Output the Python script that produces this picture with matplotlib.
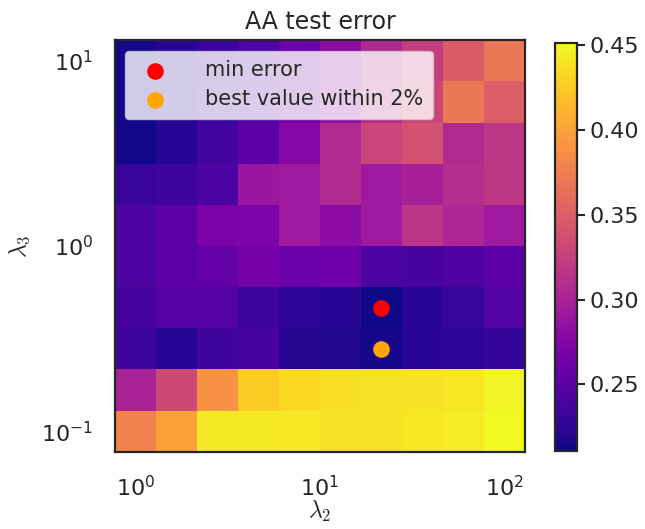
import numpy as np
import matplotlib.pyplot as plt
import seaborn as sns

# grid of regularisation strengths
lam2 = [1.0, 1.67, 2.78, 4.64, 7.74, 12.9, 21.5, 35.9, 59.9, 100.0]
lam3 = [0.1, 0.167, 0.278, 0.464, 0.774, 1.29, 2.15, 3.59, 5.99, 10.0]

# test error, rows = lam3 (ascending), cols = lam2 (ascending)
test_err = np.array([
    [0.377, 0.399, 0.442, 0.442, 0.441, 0.438, 0.437, 0.440, 0.443, 0.451],
    [0.300, 0.332, 0.389, 0.425, 0.434, 0.436, 0.437, 0.438, 0.440, 0.449],
    [0.233, 0.221, 0.233, 0.238, 0.220, 0.219, 0.214, 0.221, 0.223, 0.228],
    [0.238, 0.247, 0.247, 0.233, 0.225, 0.221, 0.2106, 0.221, 0.230, 0.245],
    [0.240, 0.250, 0.254, 0.266, 0.259, 0.262, 0.240, 0.238, 0.242, 0.250],
    [0.240, 0.250, 0.269, 0.271, 0.293, 0.281, 0.293, 0.315, 0.303, 0.293],
    [0.230, 0.233, 0.240, 0.290, 0.293, 0.307, 0.293, 0.298, 0.310, 0.317],
    [0.213, 0.221, 0.235, 0.250, 0.276, 0.307, 0.329, 0.339, 0.307, 0.317],
    [0.214, 0.222, 0.232, 0.245, 0.262, 0.285, 0.310, 0.330, 0.370, 0.350],
    [0.214, 0.221, 0.230, 0.242, 0.259, 0.281, 0.305, 0.324, 0.348, 0.370],
])

# chosen point (within 2% of the minimum)
best_lam2 = 21.5
best_lam3 = 0.278

sns.set_style("white")
plt.rcParams['font.family'] = ['DejaVu Sans']
plt.rcParams['mathtext.fontset'] = 'cm'
plt.rcParams['font.size'] = 15


def log_edges(v):
    lv = np.log10(v)
    mid = (lv[:-1] + lv[1:]) / 2
    e = np.concatenate([[2 * lv[0] - mid[0]], mid, [2 * lv[-1] - mid[-1]]])
    return 10 ** e


fig = plt.figure(figsize=(6.45, 5.29), dpi=100)
ax = fig.add_axes([0.178, 0.146, 0.636, 0.778])
cax = fig.add_axes([0.860, 0.147, 0.034, 0.771])

mesh = ax.pcolormesh(log_edges(lam2), log_edges(lam3), test_err, cmap='plasma')
ax.set_xscale('log')
ax.set_yscale('log')
ax.set_xlim(log_edges(lam2)[0], log_edges(lam2)[-1])
ax.set_ylim(log_edges(lam3)[0], log_edges(lam3)[-1])

i, j = np.unravel_index(np.argmin(test_err), test_err.shape)
ax.scatter(lam2[j], lam3[i], color='red', s=120, label='min error', zorder=3)
ax.scatter(best_lam2, best_lam3, color='orange', s=120,
           label='best value within 2%', zorder=3)

for sp in ax.spines.values():
    sp.set_linewidth(1.6)
    sp.set_color('.15')

ax.set_title('AA test error', fontsize=17, pad=8)
ax.set_xlabel(r'$\lambda_2$', fontsize=17, labelpad=-1)
ax.set_ylabel(r'$\lambda_3$', fontsize=17, labelpad=7)
ax.tick_params(axis='x', labelsize=16, pad=13)
ax.tick_params(axis='y', labelsize=16, pad=12)
ax.legend(loc='upper left', fontsize=15, framealpha=0.8,
          handletextpad=1.4, labelspacing=0.45, borderpad=0.45)

cb = fig.colorbar(mesh, cax=cax)
cb.set_ticks([0.25, 0.30, 0.35, 0.40, 0.45])
cb.ax.tick_params(labelsize=16, length=6, width=1.5)
cb.outline.set_linewidth(1.6)
cb.outline.set_edgecolor('.15')

fig.savefig('out.png', dpi=100)
